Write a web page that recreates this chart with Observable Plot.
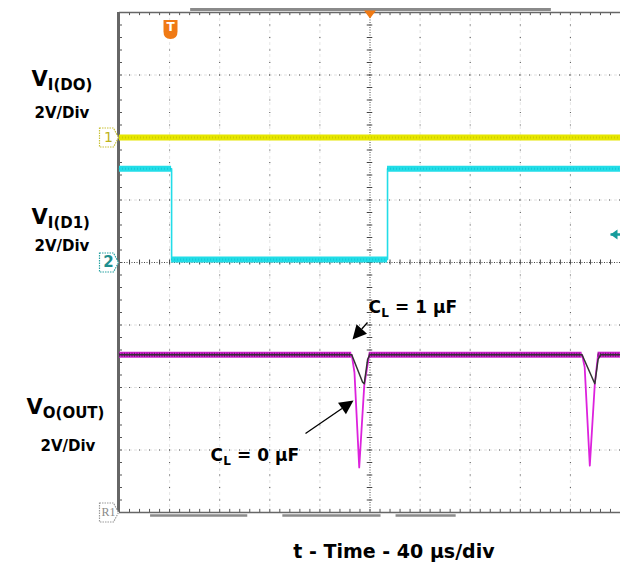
<!DOCTYPE html>
<html><head><meta charset="utf-8">
<script src="https://cdn.jsdelivr.net/npm/d3@7"></script>
<script src="https://cdn.jsdelivr.net/npm/@observablehq/plot@0.6"></script>
<style>
body{margin:0;background:#fff;}
#wrap{position:relative;width:620px;height:567px;overflow:hidden;background:#fff;}
#caption{position:absolute;left:0;top:539px;width:620px;box-sizing:border-box;padding-left:168px;text-align:center;
 font-family:"DejaVu Sans",sans-serif;font-weight:bold;font-size:19px;line-height:24px;color:#000;white-space:nowrap;}
</style></head><body>
<div id="wrap"></div>
<script>
// ---------- DATA (time in µs, 40 µs/div; volts at 2 V/div) ----------
const ch1Time = [0, 400];
const ch1Volt = [0, 0];
const ch2Time = [0, 41.6, 41.6, 214, 214, 400];
const ch2Volt = [3.0, 3.0, 0.1, 0.1, 3.0, 3.0];
const cl0Time = [0, 185.4, 187.6, 191.4, 195.4, 199.4, 369.3, 371.4, 375.5, 379.5, 382.1, 400];
const cl0Volt = [5.05, 5.05, 4.48, 1.44, 4.06, 5.05, 5.05, 4.65, 1.5, 4.12, 5.05, 5.05];
const cl1Time = [0, 185.4, 194.1, 195.4, 198.1, 200, 369.3, 379.5, 382.1, 384.2, 400];
const cl1Volt = [5.05, 5.05, 4.17, 4.12, 4.9, 5.05, 5.05, 4.12, 4.9, 5.05, 5.05];
const channelOffsets = [6, 4, 0];            // reference level of ch1, ch2, R1 (divisions)
const channelTags = ["1", "2", "R1"];
const sideMain = ["V", "V", "V"];
const sideSub = ["I(DO)", "I(D1)", "O(OUT)"];
const sideScale = ["2V/Div", "2V/Div", "2V/Div"];
const noteMain = ["C", "C"];
const noteSub = ["L", "L"];
const noteRest = [" = 1 \u00B5F", " = 0 \u00B5F"];
const captionText = "t - Time - 40 \u00B5s/div";
const gridTimes = [40, 80, 120, 160, 240, 280, 320, 360, 400];
const gridDivs = [1, 2, 3, 5, 6, 7];
const topBar = [[56.8, 344.8]];
const bottomBars = [[24.8, 102.4], [130.4, 208.8], [220.8, 268.8]];

// ---------- LAYOUT ----------
const W = 620, H = 525, ML = 119, MR = 0, MT = 12, MB = 13;
const T_SPAN = 400, DIVS = 8, VPD = 2;
const pxPerUs = (W - ML - MR) / T_SPAN, pxPerDiv = (H - MT - MB) / DIVS;
const invX = px => (px - ML) / pxPerUs;
const invY = py => (H - MB - py) / pxPerDiv;

const pts = (T, V, off) => T.map((t, i) => ({t, y: off + V[i] / VPD}));
function flats(T, V, off) {
  const out = [];
  for (let i = 0; i < T.length - 1; i++)
    if (V[i] === V[i + 1] && T[i] !== T[i + 1]) out.push({t1: T[i], t2: T[i + 1], y: off + V[i] / VPD});
  return out;
}
const ch1 = pts(ch1Time, ch1Volt, channelOffsets[0]);
const ch2 = pts(ch2Time, ch2Volt, channelOffsets[1]);
const cl0 = pts(cl0Time, cl0Volt, channelOffsets[2]);
const cl1 = pts(cl1Time, cl1Volt, channelOffsets[2]);
const ch1F = flats(ch1Time, ch1Volt, channelOffsets[0]);
const ch2F = flats(ch2Time, ch2Volt, channelOffsets[1]);
const cl0F = flats(cl0Time, cl0Volt, channelOffsets[2]);

const minorT = d3.range(0, 400.01, 8);
const minorD = d3.range(0, 8.001, 0.2);

// symbols
const tagSymbol = {draw(c) { c.moveTo(-19, -9.5); c.lineTo(-5, -9.5); c.lineTo(0, 0); c.lineTo(-5, 9.5); c.lineTo(-19, 9.5); c.closePath(); }};
const trigSymbol = {draw(c) { c.moveTo(-7, -9.5); c.lineTo(7, -9.5); c.lineTo(7, 2); c.quadraticCurveTo(7, 9.5, 0, 9.5); c.quadraticCurveTo(-7, 9.5, -7, 2); c.closePath(); }};
const downTri = {draw(c) { c.moveTo(-6, -3); c.lineTo(6, -3); c.lineTo(0, 5); c.closePath(); }};
function headSymbol(ux, uy, L, w) {
  return {draw(c) { const bx = -ux * L, by = -uy * L, px = -uy * w, py = ux * w;
    c.moveTo(0, 0); c.lineTo(bx + px, by + py); c.lineTo(bx - px, by - py); c.closePath(); }};
}
// annotation arrows (tail -> tip)
const arrows = [
  {t1: invX(367), y1: invY(322), t2: invX(352), y2: invY(339)},
  {t1: invX(305), y1: invY(433), t2: invX(353), y2: invY(400)}
];
const HEAD = 14;
arrows.forEach(a => {
  const dx = (a.t2 - a.t1) * pxPerUs, dy = -(a.y2 - a.y1) * pxPerDiv, n = Math.hypot(dx, dy);
  a.ux = dx / n; a.uy = dy / n;
  a.bt = a.t2 - a.ux * HEAD / pxPerUs; a.by = a.y2 + a.uy * HEAD / pxPerDiv;
});
const cyanArrow = {t1: 400, t2: invX(610), y: invY(234)};

const font = "DejaVu Sans, sans-serif";
const T = (arr, o) => Plot.text(arr, {textAnchor: "start", lineAnchor: "bottom", fontWeight: "bold", fill: "#000", fontFamily: font, ...o});

const sideRows = [
  {main: 85, sub: 89, scale: 117, xm: 31, xsc: 34},
  {main: 223, sub: 227, scale: 250, xm: 31, xsc: 34},
  {main: 413, sub: 417, scale: 450, xm: 26, xsc: 40}
].map((r, i) => ({
  main: {s: sideMain[i], t: invX(r.xm), y: invY(r.main)},
  sub: {s: sideSub[i], t: invX(r.xm + 16.3), y: invY(r.sub)},
  scale: {s: sideScale[i], t: invX(r.xsc), y: invY(r.scale)}
}));
const noteRows = [
  {x: 368, base: 312}, {x: 210, base: 460}
].map((r, i) => ({
  main: {s: noteMain[i], t: invX(r.x), y: invY(r.base)},
  sub: {s: noteSub[i], t: invX(r.x + 12.8), y: invY(r.base + 4)},
  rest: {s: noteRest[i], t: invX(r.x + 20.6), y: invY(r.base)}
}));

const tags = channelTags.map((s, i) => ({s, y: channelOffsets[i]}));
const tagStyle = [
  {stroke: "#c9c23a", fill: "#bdb31c", size: 14, weight: "normal"},
  {stroke: "#2aa3a3", fill: "#1f8f8f", size: 15, weight: "bold"},
  {stroke: "#9a9a9a", fill: "#8a8a8a", size: 12, weight: "normal"}
];

const chart = Plot.plot({
  width: W, height: H, marginLeft: ML, marginRight: MR, marginTop: MT, marginBottom: MB,
  x: {domain: [0, T_SPAN], axis: null},
  y: {domain: [0, DIVS], axis: null},
  style: {background: "white", overflow: "visible", fontFamily: font},
  marks: [
    // grid
    Plot.ruleY(gridDivs, {stroke: "#e2e2e2", strokeDasharray: "3,2"}),
    Plot.ruleX(gridTimes, {stroke: "#e6e6e6", strokeDasharray: "3,3"}),
    Plot.ruleY(gridDivs, {stroke: "#555", strokeDasharray: "1,9"}),
    Plot.ruleX(gridTimes, {stroke: "#555", strokeDasharray: "1,11.5"}),
    Plot.ruleX([200], {stroke: "#444", strokeDasharray: "1,1.5"}),
    Plot.ruleY([4], {stroke: "#444", strokeDasharray: "1,1.5"}),
    Plot.ruleY(minorD, {y: d => d, x1: 200 - 2.2, x2: 200 + 2.2, stroke: "#444"}),
    Plot.ruleX(minorT, {x: d => d, y1: 4 - 0.04, y2: 4 + 0.04, stroke: "#444"}),
    Plot.ruleX(minorT, {x: d => d, y1: 8, y2: 8 - 0.05, stroke: "#555"}),
    Plot.ruleX(minorT, {x: d => d, y1: 0, y2: 0.05, stroke: "#555"}),
    Plot.ruleY(minorD, {y: d => d, x1: 0, x2: 2.4, stroke: "#555"}),
    // borders
    Plot.ruleY([8], {stroke: "#666", strokeWidth: 1.5}),
    Plot.ruleY([0], {stroke: "#666", strokeWidth: 1.5}),
    Plot.ruleX([0], {stroke: "#666", strokeWidth: 3, dx: -1}),
    Plot.ruleY(topBar, {y: 8, x1: d => d[0], x2: d => d[1], dy: -3, stroke: "#8a8a8a", strokeWidth: 3}),
    Plot.ruleY(bottomBars, {y: 0, x1: d => d[0], x2: d => d[1], dy: 3, stroke: "#8a8a8a", strokeWidth: 2.5}),
    // channel 1
    Plot.ruleY(ch1F, {y: "y", x1: "t1", x2: "t2", stroke: "#e6e600", strokeWidth: 6}),
    Plot.ruleY(ch1F, {y: "y", x1: "t1", x2: "t2", stroke: "#b9b400", strokeWidth: 2, strokeDasharray: "1,2", strokeOpacity: 0.5}),
    // channel 2
    Plot.line(ch2, {x: "t", y: "y", stroke: "#22dde8", strokeWidth: 1.6}),
    Plot.ruleY(ch2F, {y: "y", x1: "t1", x2: "t2", stroke: "#22dde8", strokeWidth: 6}),
    Plot.ruleY(ch2F, {y: "y", x1: "t1", x2: "t2", stroke: "#06b9c6", strokeWidth: 2, strokeDasharray: "1,2", strokeOpacity: 0.5}),
    // channel 3 (C_L = 0 magenta, C_L = 1 µF black)
    Plot.line(cl0, {x: "t", y: "y", stroke: "#dd22dd", strokeWidth: 1.8}),
    Plot.ruleY(cl0F, {y: "y", x1: "t1", x2: "t2", stroke: "#cc22cc", strokeWidth: 6}),
    Plot.ruleY(cl0F, {y: "y", x1: "t1", x2: "t2", stroke: "#2a0a2a", strokeWidth: 4, strokeDasharray: "1,1.5", strokeOpacity: 0.6}),
    Plot.line(cl1, {x: "t", y: "y", stroke: "#333", strokeWidth: 1.5}),
    // channel tags
    Plot.dot(tags, {x: 0, y: "y", dx: -1, r: 5, symbol: tagSymbol, fill: "white", stroke: (d, i) => tagStyle[i].stroke, strokeDasharray: "1.5,1", strokeWidth: 1.2}),
    ...tags.map((d, i) => Plot.text([d], {x: 0, y: "y", dx: -11, text: "s", textAnchor: "middle", lineAnchor: "middle", fill: tagStyle[i].fill, fontSize: tagStyle[i].size, fontWeight: tagStyle[i].weight, fontFamily: i === 2 ? "Liberation Serif, serif" : font})),
    // trigger markers
    Plot.dot([{t: invX(170), y: invY(29)}], {x: "t", y: "y", r: 5, symbol: trigSymbol, fill: "#f07a14"}),
    Plot.text([{t: invX(170), y: invY(29)}], {x: "t", y: "y", text: () => "T", fill: "white", fontWeight: "bold", fontSize: 12, lineAnchor: "middle", dy: -2}),
    Plot.dot([{t: 200, y: 8}], {x: "t", y: "y", dy: 1, r: 5, symbol: downTri, fill: "#f07a14"}),
    Plot.link([cyanArrow], {x1: "t1", x2: "t2", y1: "y", y2: "y", stroke: "#149c9c", strokeWidth: 2.5}),
    Plot.dot([cyanArrow], {x: "t2", y: "y", r: 5, symbol: headSymbol(-1, 0, 7, 5), fill: "#149c9c"}),
    // annotation arrows
    Plot.link(arrows, {x1: "t1", y1: "y1", x2: "bt", y2: "by", stroke: "#000", strokeWidth: 1.3}),
    ...arrows.map(a => Plot.dot([a], {x: "t2", y: "y2", r: 5, symbol: headSymbol(a.ux, a.uy, HEAD, 7), fill: "#000"})),
    // side labels
    T(sideRows.map(r => r.main), {x: "t", y: "y", text: "s", fontSize: 21}),
    T(sideRows.map(r => r.sub), {x: "t", y: "y", text: "s", fontSize: 15}),
    T(sideRows.map(r => r.scale), {x: "t", y: "y", text: "s", fontSize: 15}),
    // C_L notes
    T(noteRows.map(r => r.main), {x: "t", y: "y", text: "s", fontSize: 17}),
    T(noteRows.map(r => r.sub), {x: "t", y: "y", text: "s", fontSize: 12}),
    T(noteRows.map(r => r.rest), {x: "t", y: "y", text: "s", fontSize: 17})
  ]
});
const wrap = document.getElementById("wrap");
wrap.appendChild(chart);
const cap = document.createElement("div");
cap.id = "caption";
cap.textContent = captionText;
wrap.appendChild(cap);
</script>
</body></html>
